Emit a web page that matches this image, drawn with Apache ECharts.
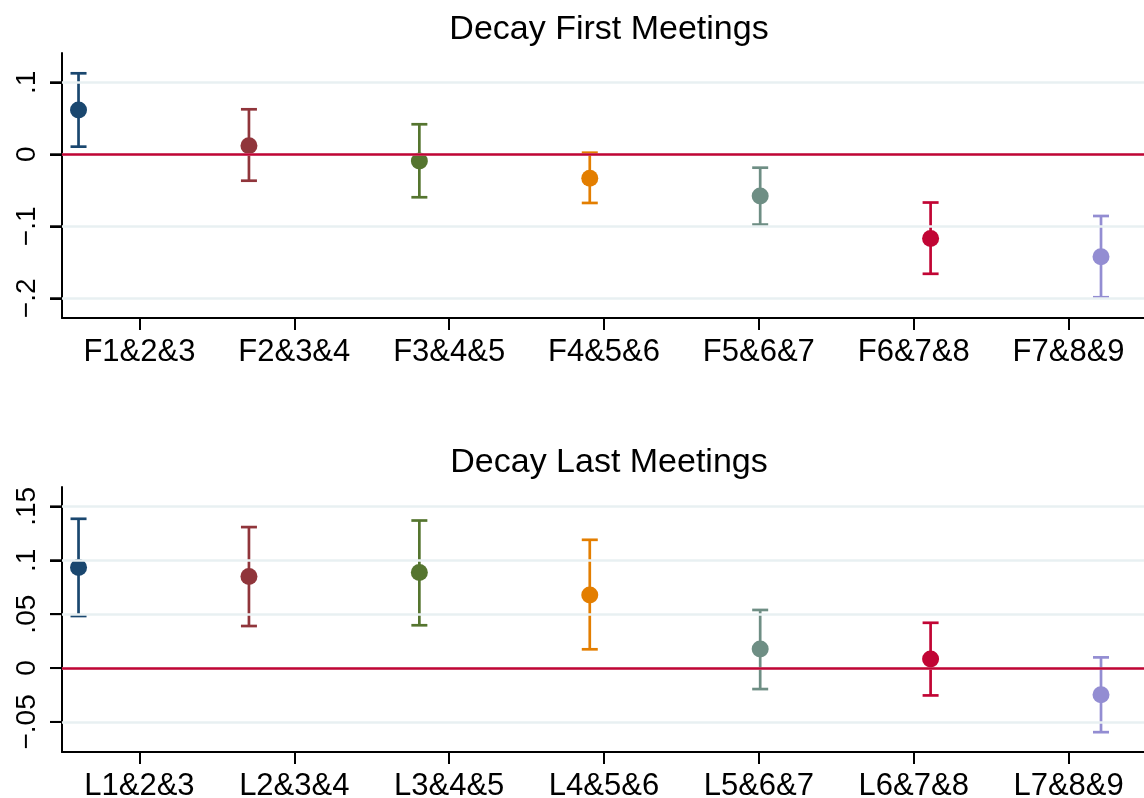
<!DOCTYPE html>
<html>
<head>
<meta charset="utf-8">
<script src="https://cdn.jsdelivr.net/npm/echarts@6/dist/echarts.min.js"></script>
<style>
  html, body { margin: 0; padding: 0; background: #fff; }
  #chart { width: 1144px; height: 798px; }
</style>
</head>
<body>
<div id="chart"></div>
<script>
  // categories
  var catsTop = ['F1&2&3', 'F2&3&4', 'F3&4&5', 'F4&5&6', 'F5&6&7', 'F6&7&8', 'F7&8&9'];
  var catsBot = ['L1&2&3', 'L2&3&4', 'L3&4&5', 'L4&5&6', 'L5&6&7', 'L6&7&8', 'L7&8&9'];
  // point position of each estimate (coefplot index)
  var pos = [0, 1, 2, 3, 4, 5, 6];

  // first meetings: estimate, lower and upper CI
  var estTop = [0.0615, 0.012, -0.0093, -0.0333, -0.0578, -0.117, -0.1422];
  var loTop = [0.0106, -0.0367, -0.0597, -0.0676, -0.0976, -0.166, -0.1986];
  var hiTop = [0.1125, 0.0625, 0.0417, 0.0022, -0.0186, -0.067, -0.0857];

  // last meetings
  var estBot = [0.0932, 0.0849, 0.0886, 0.0678, 0.0177, 0.0084, -0.0248];
  var loBot = [0.0483, 0.039, 0.0397, 0.0174, -0.0195, -0.0254, -0.0595];
  var hiBot = [0.1385, 0.1308, 0.1369, 0.119, 0.0539, 0.042, 0.0099];

  // y ticks and their labels
  var yTicksTop = [-0.2, -0.1, 0, 0.1];
  var yLabelsTop = ['\u2212.2', '\u2212.1', '0', '.1'];
  var yTicksBot = [-0.05, 0, 0.05, 0.1, 0.15];
  var yLabelsBot = ['\u2212.05', '0', '.05', '.1', '.15'];

  // stata s2color palette
  var colors = ['#1a476f', '#90353b', '#55752f', '#e37e00', '#6e8e84', '#c10534', '#938dd2'];

  var FONT = 'Liberation Sans, Arial, Helvetica, sans-serif';
  var GRID = '#e8f0f2';
  var ZERO = '#c10534';
  var TICK_LEN = 12;

  function labelFor(ticks, labels) {
    return function (v) {
      for (var i = 0; i < ticks.length; i++) {
        if (Math.abs(ticks[i] - v) < 1e-9) return labels[i];
      }
      return '';
    };
  }

  function catAxis(grid, cats) {
    return {
      type: 'category',
      gridIndex: grid,
      data: cats,
      axisLine: { show: true, onZero: false, lineStyle: { color: '#000', width: 2 } },
      axisTick: { show: true, alignWithLabel: true, length: TICK_LEN, lineStyle: { color: '#000', width: 2 } },
      axisLabel: { color: '#000', fontSize: 31, fontFamily: FONT, margin: 19 },
      splitLine: { show: false }
    };
  }

  function posAxis(grid) {
    return { type: 'value', gridIndex: grid, min: -0.097, max: 6.264, show: false,
      axisLine: { onZero: false } };
  }

  function yAxis(grid, min, max, ticks, labels) {
    return {
      type: 'value',
      gridIndex: grid,
      min: min,
      max: max,
      axisLine: { show: true, onZero: false, lineStyle: { color: '#000', width: 2 } },
      axisTick: { show: true, length: TICK_LEN, customValues: ticks,
        lineStyle: { color: '#000', width: 2 } },
      axisLabel: {
        customValues: ticks,
        rotate: 90,
        color: '#000',
        fontSize: 28,
        fontFamily: FONT,
        margin: 21,
        formatter: labelFor(ticks, labels)
      },
      splitLine: { show: false }
    };
  }

  function panelSeries(xIdx, yIdx, est, lo, hi, ticks) {
    var pts = [], bars = [];
    pos.forEach(function (p, i) {
      pts.push({ value: [p, est[i]], itemStyle: { color: colors[i], opacity: 1 } });
      bars.push([p, lo[i], hi[i]]);
    });
    return [{
      // gridlines
      type: 'line', xAxisIndex: xIdx, yAxisIndex: yIdx, data: [], z: 1, silent: true,
      markLine: {
        silent: true, symbol: ['none', 'none'], label: { show: false },
        lineStyle: { color: GRID, width: 2.5, type: 'solid' },
        data: ticks.map(function (v) { return { yAxis: v }; })
      }
    }, {
      // zero line
      type: 'line', xAxisIndex: xIdx, yAxisIndex: yIdx, data: [], z: 2, silent: true,
      markLine: {
        silent: true, symbol: ['none', 'none'], label: { show: false },
        lineStyle: { color: ZERO, width: 2.5, type: 'solid' },
        data: [{ yAxis: 0 }]
      }
    }, {
      // y tick marks, left of the axis line
      type: 'custom', xAxisIndex: xIdx, yAxisIndex: yIdx, z: 5, silent: true, clip: false,
      encode: { x: 0, y: 1 },
      data: ticks.map(function (v) { return [pos[0], v]; }),
      renderItem: function (params, api) {
        var p = api.coord([api.value(0), api.value(1)]);
        var x0 = params.coordSys.x;
        return {
          type: 'line',
          shape: { x1: x0 - TICK_LEN, y1: p[1], x2: x0, y2: p[1] },
          style: { stroke: '#000', lineWidth: 2 }
        };
      }
    }, {
      type: 'custom', xAxisIndex: xIdx, yAxisIndex: yIdx, z: 3, silent: true,
      encode: { x: 0, y: [1, 2] },
      data: bars,
      renderItem: function (params, api) {
        var a = api.coord([api.value(0), api.value(1)]);
        var b = api.coord([api.value(0), api.value(2)]);
        var hw = 8;
        var st = { stroke: colors[params.dataIndex], lineWidth: 2.7, fill: null };
        return {
          type: 'group',
          children: [
            { type: 'line', shape: { x1: a[0], y1: a[1], x2: b[0], y2: b[1] }, style: st },
            { type: 'line', shape: { x1: a[0] - hw, y1: a[1], x2: a[0] + hw, y2: a[1] }, style: st },
            { type: 'line', shape: { x1: b[0] - hw, y1: b[1], x2: b[0] + hw, y2: b[1] }, style: st }
          ]
        };
      }
    }, {
      type: 'scatter', xAxisIndex: xIdx, yAxisIndex: yIdx, z: 4, silent: true,
      symbol: 'circle', symbolSize: 17,
      itemStyle: { opacity: 1 },
      data: pts
    }];
  }

  var myChart = echarts.init(document.getElementById('chart'));
  var option = {
    backgroundColor: '#fff',
    animation: false,
    title: [{
      text: 'Decay First Meetings', left: 604, top: 8, textAlign: 'center',
      textStyle: { fontSize: 34, fontWeight: 'normal', color: '#000', fontFamily: FONT }
    }, {
      text: 'Decay Last Meetings', left: 604, top: 441, textAlign: 'center',
      textStyle: { fontSize: 34, fontWeight: 'normal', color: '#000', fontFamily: FONT }
    }],
    grid: [
      { left: 62, right: -2, top: 53, height: 265, outerBoundsMode: 'none' },
      { left: 62, right: -2, top: 487, height: 265, outerBoundsMode: 'none' }
    ],
    xAxis: [catAxis(0, catsTop), posAxis(0), catAxis(1, catsBot), posAxis(1)],
    yAxis: [
      yAxis(0, -0.2274, 0.1407, yTicksTop, yLabelsTop),
      yAxis(1, -0.0779, 0.168, yTicksBot, yLabelsBot)
    ],
    series: panelSeries(1, 0, estTop, loTop, hiTop, yTicksTop)
      .concat(panelSeries(3, 1, estBot, loBot, hiBot, yTicksBot))
  };
  myChart.setOption(option, true);
</script>
</body>
</html>
